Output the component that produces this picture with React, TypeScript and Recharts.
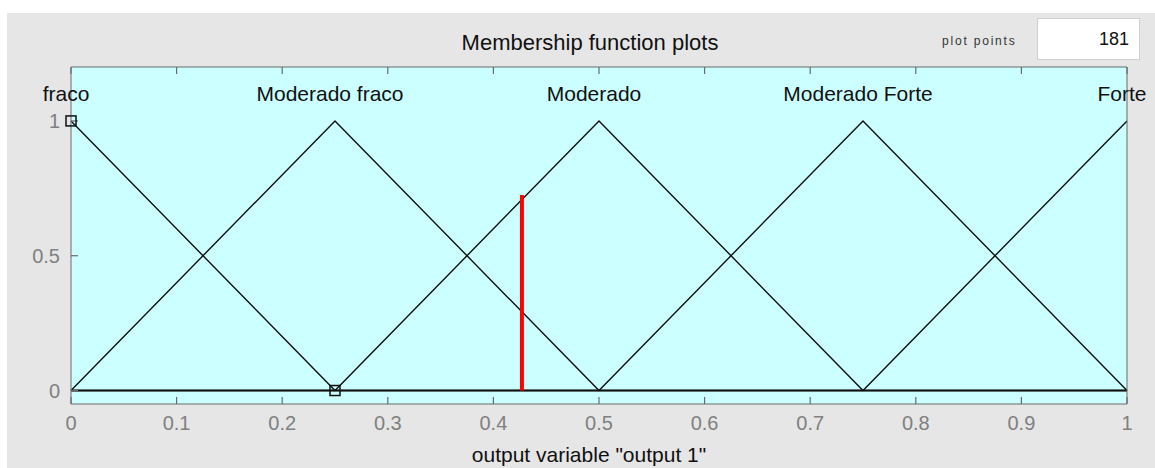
import React from "react";
import {
  ComposedChart,
  Line,
  Scatter,
  XAxis,
  YAxis,
} from "recharts";

document.body.style.margin = "0";

// membership functions of output variable "output 1" (triangles)
const mfNames = ["fraco", "Moderado fraco", "Moderado", "Moderado Forte", "Forte"];
const mfPeaks = [0, 0.25, 0.5, 0.75, 1];
const mfLeft = [0, 0, 0.25, 0.5, 0.75];
const mfRight = [0.25, 0.5, 0.75, 1, 1];

const xTicks = [0, 0.1, 0.2, 0.3, 0.4, 0.5, 0.6, 0.7, 0.8, 0.9, 1];
const yTicks = [0, 0.5, 1];
const yDomain = [-0.05, 1.2];

// current output value (red bar) and its membership height
const outputValue = 0.427;
const outputHeight = 0.725;

// selected mf markers
const markers = [
  { x: 0, y: 1 },
  { x: 0.25, y: 0 },
];

const FONT = '"Liberation Sans", Arial, sans-serif';
const AXIS = "#6a6a6a";
const TICK_TEXT = "#808080";

// chart box; plot area = margins + axis sizes
const W = 1155;
const H = 468;
const M = { top: 66, right: 27, left: 11, bottom: 24 };
const Y_AXIS_W = 60;
const X_AXIS_H = 40;

function mfPoints(i: number) {
  const pts: { x: number; y: number }[] = [];
  if (mfLeft[i] > 0) pts.push({ x: 0, y: 0 });
  pts.push({ x: mfLeft[i], y: mfLeft[i] === mfPeaks[i] ? 1 : 0 });
  if (mfPeaks[i] !== mfLeft[i] && mfPeaks[i] !== mfRight[i]) pts.push({ x: mfPeaks[i], y: 1 });
  pts.push({ x: mfRight[i], y: mfRight[i] === mfPeaks[i] ? 1 : 0 });
  if (mfRight[i] < 1) pts.push({ x: 1, y: 0 });
  return pts;
}

const labelData = mfNames.map((name, i) => ({ x: mfPeaks[i], y: 1, name }));

// inward tick marks on the box edges
const bottomMarks = xTicks.map((x) => ({ x, y: yDomain[0] }));
const topMarks = xTicks.map((x) => ({ x, y: yDomain[1] }));
const leftMarks = yTicks.map((y) => ({ x: 0, y }));

const MfLabel = (props: any) => (
  <text
    x={props.cx - 5}
    y={props.cy - 20}
    textAnchor="middle"
    fontFamily={FONT}
    fontSize={21}
    fill="#111"
  >
    {props.payload.name}
  </text>
);

const SquareMark = (props: any) => (
  <rect
    x={props.cx - 5}
    y={props.cy - 5}
    width={10}
    height={10}
    fill="none"
    stroke="#111"
    strokeWidth={1.5}
  />
);

const UpMark = (props: any) => (
  <line x1={props.cx} x2={props.cx} y1={props.cy} y2={props.cy - 7} stroke={AXIS} strokeWidth={1.2} />
);
const DownMark = (props: any) => (
  <line x1={props.cx} x2={props.cx} y1={props.cy} y2={props.cy + 7} stroke={AXIS} strokeWidth={1.2} />
);
const RightMark = (props: any) => (
  <line x1={props.cx} x2={props.cx + 7} y1={props.cy} y2={props.cy} stroke={AXIS} strokeWidth={1.2} />
);

export default function App() {
  const plotLeft = M.left + Y_AXIS_W;
  const plotTop = M.top + 1;
  const plotW = W - M.left - M.right - Y_AXIS_W - 1;
  const plotH = H - M.top - M.bottom - X_AXIS_H - 1;
  return (
    <div style={{ position: "relative", width: W, height: H, background: "#fff", overflow: "hidden" }}>
      <div style={{ position: "absolute", left: 7, top: 13, right: 0, bottom: 0, background: "#e6e6e6" }} />
      <div
        style={{
          position: "absolute",
          left: plotLeft,
          top: plotTop,
          width: plotW,
          height: plotH,
          background: "#ccffff",
        }}
      />
      <div
        style={{
          position: "absolute",
          left: 0,
          width: 1180,
          top: 30,
          textAlign: "center",
          fontFamily: FONT,
          fontSize: 22,
          color: "#111",
        }}
      >
        Membership function plots
      </div>
      <div
        style={{
          position: "absolute",
          left: 942,
          top: 34,
          fontFamily: FONT,
          fontSize: 12,
          letterSpacing: 1.8,
          color: "#333",
        }}
      >
        plot points
      </div>
      <div
        style={{
          position: "absolute",
          left: 1037,
          top: 18,
          width: 103,
          height: 42,
          background: "#fff",
          border: "1px solid #d0d0d0",
          boxSizing: "border-box",
          fontFamily: FONT,
          fontSize: 18,
          color: "#111",
          textAlign: "right",
          paddingRight: 10,
          lineHeight: "40px",
        }}
      >
        181
      </div>
      <div
        style={{
          position: "absolute",
          left: 0,
          width: 1178,
          top: 443,
          textAlign: "center",
          fontFamily: FONT,
          fontSize: 21,
          color: "#111",
        }}
      >
        output variable "output 1"
      </div>
      <div style={{ position: "absolute", left: 0, top: 0 }}>
        <ComposedChart width={W} height={H} margin={M}>
          <XAxis
            xAxisId="b"
            type="number"
            dataKey="x"
            domain={[0, 1]}
            ticks={xTicks}
            height={X_AXIS_H}
            stroke={AXIS}
            tickLine={false}
            tickMargin={6}
            tick={{ fill: TICK_TEXT, fontSize: 20, fontFamily: FONT }}
          />
          <XAxis
            xAxisId="t"
            orientation="top"
            type="number"
            dataKey="x"
            domain={[0, 1]}
            height={1}
            stroke={AXIS}
            tick={false}
            tickLine={false}
          />
          <YAxis
            yAxisId="l"
            type="number"
            domain={yDomain}
            ticks={yTicks}
            width={Y_AXIS_W}
            stroke={AXIS}
            tickLine={false}
            tickMargin={5}
            tick={{ fill: TICK_TEXT, fontSize: 20, fontFamily: FONT }}
          />
          <YAxis
            yAxisId="r"
            orientation="right"
            type="number"
            domain={yDomain}
            width={1}
            stroke={AXIS}
            tick={false}
            tickLine={false}
          />
          <Scatter xAxisId="b" yAxisId="l" data={bottomMarks} dataKey="y" shape={UpMark} isAnimationActive={false} />
          <Scatter xAxisId="b" yAxisId="l" data={topMarks} dataKey="y" shape={DownMark} isAnimationActive={false} />
          <Scatter xAxisId="b" yAxisId="l" data={leftMarks} dataKey="y" shape={RightMark} isAnimationActive={false} />
          {mfNames.map((name, i) => (
            <Line
              key={name}
              xAxisId="b"
              yAxisId="l"
              data={mfPoints(i)}
              dataKey="y"
              type="linear"
              stroke="#111"
              strokeWidth={1.4}
              dot={false}
              isAnimationActive={false}
            />
          ))}
          <Line
            xAxisId="b"
            yAxisId="l"
            data={[
              { x: outputValue, y: 0 },
              { x: outputValue, y: outputHeight },
            ]}
            dataKey="y"
            stroke="#ff0000"
            strokeWidth={4}
            dot={false}
            isAnimationActive={false}
          />
          <Scatter
            xAxisId="b"
            yAxisId="l"
            data={markers}
            dataKey="y"
            shape={SquareMark}
            isAnimationActive={false}
          />
          <Scatter
            xAxisId="b"
            yAxisId="l"
            data={labelData}
            dataKey="y"
            shape={MfLabel}
            isAnimationActive={false}
          />
        </ComposedChart>
      </div>
    </div>
  );
}
